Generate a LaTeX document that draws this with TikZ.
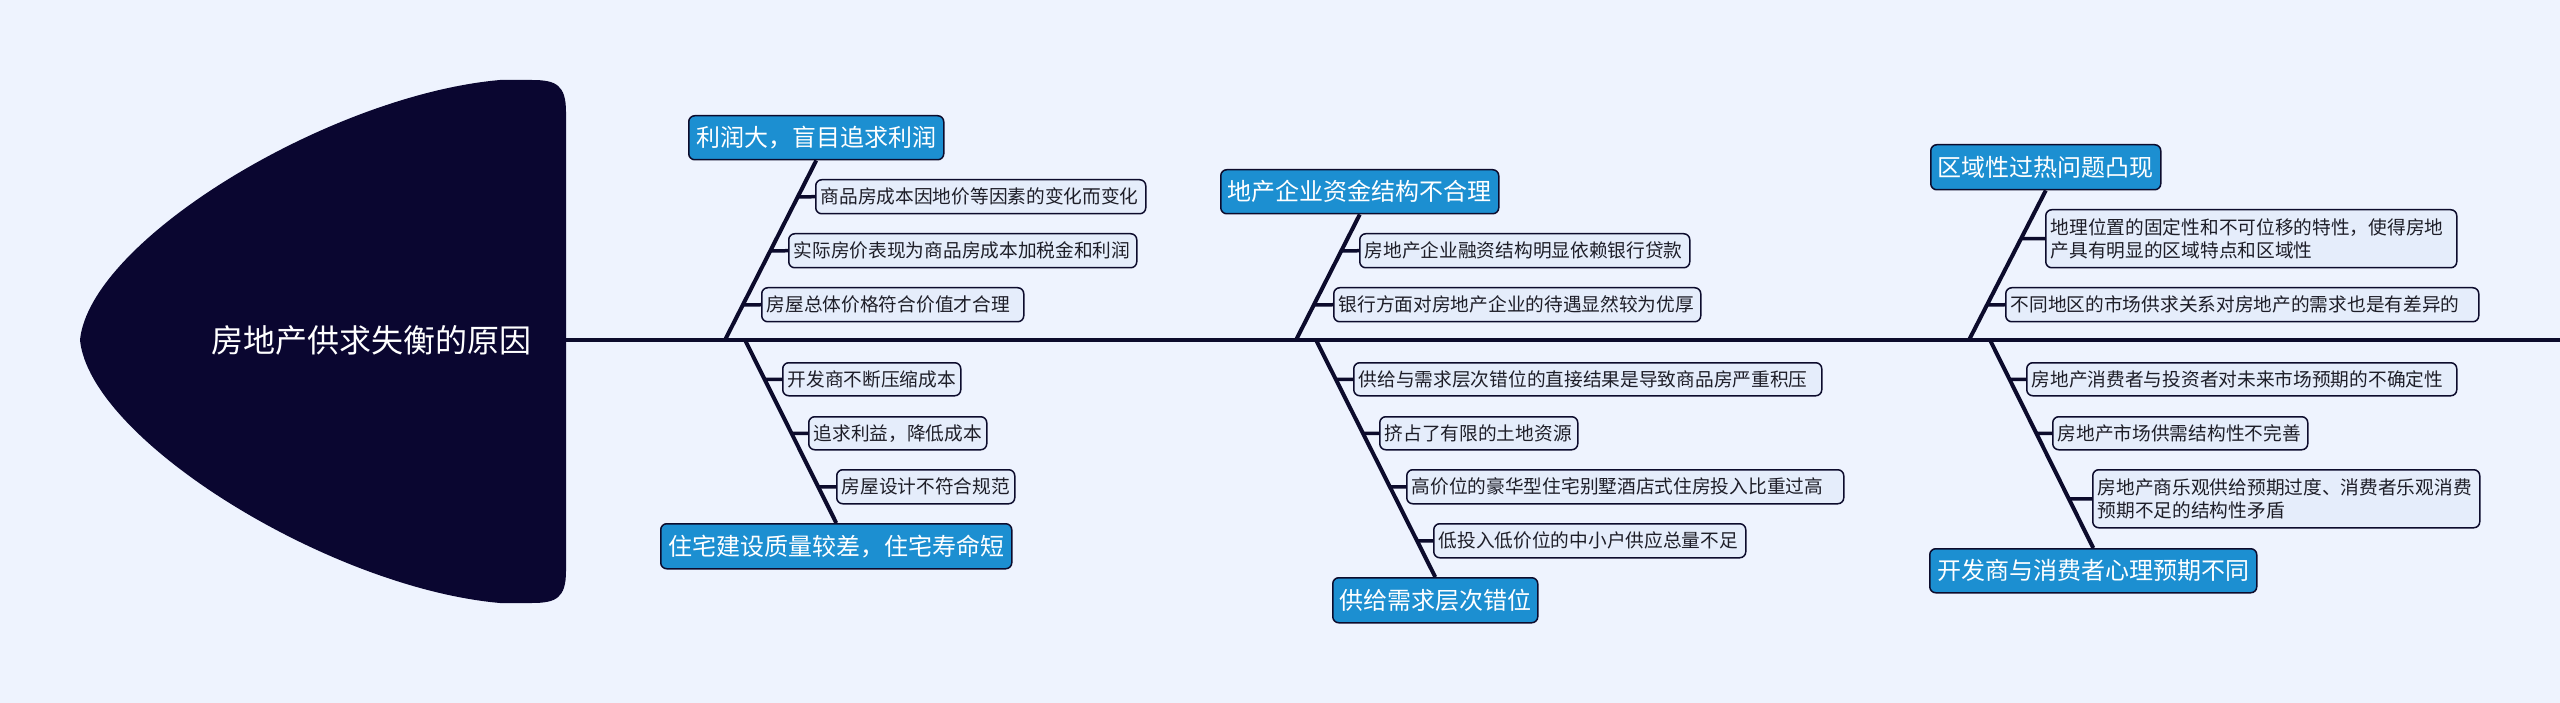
\documentclass[tikz,border=0pt]{standalone}
\usepackage{fontspec}
\setmainfont{Noto Sans CJK SC}
\definecolor{bg}{HTML}{EEF3FE}
\definecolor{navy}{HTML}{0C0B2C}
\definecolor{headc}{HTML}{0A0630}
\definecolor{mainblue}{HTML}{1C8FD1}
\definecolor{subfill}{HTML}{E5EDFB}
\definecolor{subtext}{HTML}{1E1E28}
\begin{document}
\begin{tikzpicture}[x=1pt,y=-1pt,
  bone/.style={draw=navy,line width=4pt},
  twig/.style={draw=navy,line width=3.5pt},
  mainbox/.style={draw=navy,line width=1.5pt,fill=mainblue,rounded corners=6pt,
    text=white,font=\fontsize{24}{28}\selectfont,inner sep=0pt,anchor=north west},
  subbox/.style={draw=navy,line width=1.5pt,fill=subfill,rounded corners=6pt,
    text=subtext,font=\fontsize{18.7}{23.3}\selectfont,inner xsep=5pt,inner ysep=0pt,
    anchor=north west,align=left,text width=#1},
]
\fill[bg] (0,0) rectangle (2560,703);
\useasboundingbox (0,0) rectangle (2560,703);

% head of the fish
\path[fill=headc] (566,112) -- (566,571)
  .. controls (566,598) and (556,603) .. (532,603) -- (500,603)
  .. controls (330,588) and (90,440) .. (80,340)
  .. controls (90,240) and (330,95) .. (500,80) -- (532,80)
  .. controls (556,80) and (566,85) .. (566,112) -- cycle;
\node[text=white,font=\fontsize{32}{38}\selectfont,inner sep=0pt] (head) at (371,340) {房地产供求失衡的原因};

% spine
\coordinate (headR) at (566,340);
\coordinate (tail) at (2560,340);
\draw[bone] (headR) -- (tail);

% junctions on the spine
\coordinate (j1) at (725,340);
\coordinate (j2) at (745,340);
\coordinate (j3) at (1296,340);
\coordinate (j4) at (1316,340);
\coordinate (j5) at (1969,340);
\coordinate (j6) at (1990,340);

% main boxes
\node[mainbox,minimum width=255pt,minimum height=44pt] (m1) at (688,115) {利润大，盲目追求利润};
\node[mainbox,minimum width=351pt,minimum height=45pt] (m2) at (660,523) {住宅建设质量较差，住宅寿命短};
\node[mainbox,minimum width=278pt,minimum height=44pt] (m3) at (1220,169) {地产企业资金结构不合理};
\node[mainbox,minimum width=205pt,minimum height=45pt] (m4) at (1332,577) {供给需求层次错位};
\node[mainbox,minimum width=230pt,minimum height=45pt] (m5) at (1930,144) {区域性过热问题凸现};
\node[mainbox,minimum width=327pt,minimum height=44pt] (m6) at (1929,548) {开发商与消费者心理预期不同};

\coordinate (b1) at (m1.south);
\coordinate (b2) at (m2.north);
\coordinate (b3) at (m3.south);
\coordinate (b4) at (m4.north);
\coordinate (b5) at (m5.south);
\coordinate (b6) at (m6.north);

% sub boxes
\node[subbox=320pt,minimum height=34pt] (s11) at (815,179) {商品房成本因地价等因素的变化而变化};
\node[subbox=338pt,minimum height=34pt] (s12) at (788,233) {实际房价表现为商品房成本加税金和利润};
\node[subbox=252pt,minimum height=34pt] (s13) at (761,287) {房屋总体价格符合价值才合理};

\node[subbox=168pt,minimum height=33pt] (s21) at (782,362) {开发商不断压缩成本};
\node[subbox=168pt,minimum height=33pt] (s22) at (808,416) {追求利益，降低成本};
\node[subbox=168pt,minimum height=34pt] (s23) at (836,469) {房屋设计不符合规范};

\node[subbox=320pt,minimum height=34pt] (s31) at (1359,233) {房地产企业融资结构明显依赖银行贷款};
\node[subbox=357pt,minimum height=34pt] (s32) at (1333,287) {银行方面对房地产企业的待遇显然较为优厚};

\node[subbox=458pt,minimum height=33pt] (s41) at (1353,362) {供给与需求层次错位的直接结果是导致商品房严重积压};
\node[subbox=188pt,minimum height=33pt] (s42) at (1379,416) {挤占了有限的土地资源};
\node[subbox=427pt,minimum height=34pt] (s43) at (1406,469) {高价位的豪华型住宅别墅酒店式住房投入比重过高};
\node[subbox=302pt,minimum height=34pt] (s44) at (1433,523) {低投入低价位的中小户供应总量不足};

\node[subbox=401pt,minimum height=58pt] (s51) at (2045,209) {地理位置的固定性和不可位移的特性，使得房地\\产具有明显的区域特点和区域性};
\node[subbox=463pt,minimum height=34pt] (s52) at (2005,287) {不同地区的市场供求关系对房地产的需求也是有差异的};

\node[subbox=420pt,minimum height=33pt] (s61) at (2026,362) {房地产消费者与投资者对未来市场预期的不确定性};
\node[subbox=245pt,minimum height=33pt] (s62) at (2052,416) {房地产市场供需结构性不完善};
\node[subbox=377pt,minimum height=58pt] (s63) at (2092,469) {房地产商乐观供给预期过度、消费者乐观消费\\预期不足的结构性矛盾};

% bones
\draw[bone] (j1) -- (b1);
\draw[bone] (j2) -- (b2);
\draw[bone] (j3) -- (b3);
\draw[bone] (j4) -- (b4);
\draw[bone] (j5) -- (b5);
\draw[bone] (j6) -- (b6);

% twigs
\foreach \s/\j/\b in {s11/j1/b1,s12/j1/b1,s13/j1/b1,
                      s21/j2/b2,s22/j2/b2,s23/j2/b2,
                      s31/j3/b3,s32/j3/b3,
                      s41/j4/b4,s42/j4/b4,s43/j4/b4,s44/j4/b4,
                      s51/j5/b5,s52/j5/b5,
                      s61/j6/b6,s62/j6/b6,s63/j6/b6}{
  \coordinate (sw) at (\s.west);
  \coordinate (se) at (\s.east);
  \coordinate (jj) at (\j);
  \coordinate (bb) at (\b);
  \draw[twig] (intersection of jj--bb and sw--se) -- (sw);
}
\end{tikzpicture}
\end{document}
